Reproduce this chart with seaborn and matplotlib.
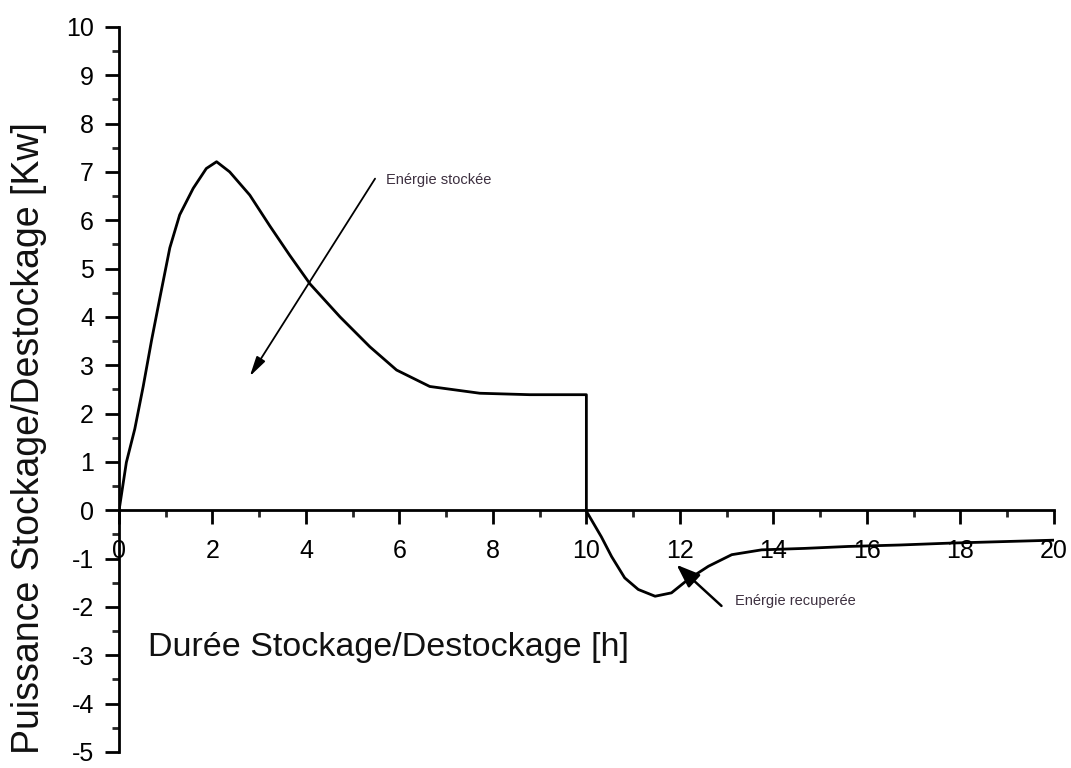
import pandas as pd
import matplotlib.pyplot as plt
import seaborn as sns
from matplotlib.ticker import MultipleLocator

# ======================================================
# DATA
# ======================================================
# charging phase (0 - 10 h), then the drop at 10 h
x_stock = [0.0, 0.02, 0.16, 0.34, 0.52, 0.70, 0.88, 1.09, 1.30, 1.59, 1.87,
           2.09, 2.37, 2.80, 3.23, 3.65, 4.09, 4.73, 5.37, 5.94, 6.65, 7.72,
           8.79, 9.93, 10.0, 10.0]
y_stock = [0.0, 0.1, 0.99, 1.68, 2.56, 3.52, 4.41, 5.43, 6.11, 6.66, 7.07,
           7.21, 7.0, 6.52, 5.88, 5.28, 4.68, 4.0, 3.38, 2.90, 2.56, 2.42,
           2.39, 2.39, 2.39, 0.0]

# discharge phase (10 - 20 h)
x_destock = [10.0, 10.32, 10.54, 10.82, 11.11, 11.47, 11.82, 12.18, 12.61,
             13.11, 13.75, 14.67, 15.6, 16.7, 17.8, 18.9, 20.0]
y_destock = [-0.02, -0.55, -0.96, -1.40, -1.64, -1.78, -1.71, -1.43, -1.16,
             -0.92, -0.82, -0.79, -0.75, -0.72, -0.68, -0.65, -0.62]

X_TICKS = [0, 2, 4, 6, 8, 10, 12, 14, 16, 18, 20]
Y_TICKS = [-5, -4, -3, -2, -1, 0, 1, 2, 3, 4, 5, 6, 7, 8, 9, 10]

X_LABEL = "Durée Stockage/Destockage [h]"
Y_LABEL = "Puissance Stockage/Destockage [Kw]"
NOTE_STORED = "Enérgie stockée"
NOTE_RECOVERED = "Enérgie recuperée"


def main():
    sns.set_theme(style="ticks")
    plt.rcParams['font.family'] = ['Liberation Sans', 'DejaVu Sans']
    plt.rcParams['axes.unicode_minus'] = False
    plt.rcParams['text.color'] = 'black'

    df = pd.DataFrame({
        "t": x_stock + x_destock,
        "p": y_stock + y_destock,
    })

    fig = plt.figure(figsize=(10.71, 7.68), dpi=100)
    ax = fig.add_axes([0.111, 0.021, 0.873, 0.944])

    sns.lineplot(data=df, x="t", y="p", sort=False, estimator=None,
                 color="black", linewidth=2, ax=ax)

    ax.set_xlim(0, 20)
    ax.set_ylim(-5, 10)

    # Origin-like axes: left spine + x axis through y=0
    ax.spines['bottom'].set_position(('data', 0))
    ax.spines['top'].set_visible(False)
    ax.spines['right'].set_visible(False)
    for s in ('left', 'bottom'):
        ax.spines[s].set_linewidth(2)
        ax.spines[s].set_color("black")

    ax.set_xticks(X_TICKS)
    ax.set_yticks(Y_TICKS)
    ax.xaxis.set_minor_locator(MultipleLocator(1))
    ax.yaxis.set_minor_locator(MultipleLocator(0.5))
    ax.tick_params(which='major', length=10, width=2, direction='out',
                   labelsize=18, colors='black')
    ax.tick_params(which='minor', length=5, width=2, direction='out')
    ax.tick_params(axis='x', which='major', pad=11)
    ax.tick_params(axis='y', which='major', pad=8)

    ax.set_xlabel("")
    ax.set_ylabel("")
    ax.text(0.62, -2.85, X_LABEL, fontsize=24.5, va='center', ha='left',
            color='#111111')
    fig.text(0.027, 0.43, Y_LABEL, fontsize=27, rotation=90,
             va='center', ha='center', color='#111111')

    # annotations
    ax.annotate("", xy=(2.8, 2.77), xytext=(5.48, 6.86),
                arrowprops=dict(arrowstyle='-|>,head_width=0.25,head_length=1.0',
                                color='black', lw=1.3, shrinkA=0, shrinkB=0))
    ax.text(5.72, 6.83, NOTE_STORED, fontsize=10.5, color='#3d3040',
            va='center', ha='left')

    ax.annotate("", xy=(11.93, -1.13), xytext=(12.89, -1.98),
                arrowprops=dict(arrowstyle='-|>,head_width=0.45,head_length=1.2',
                                color='black', lw=1.8, shrinkA=0, shrinkB=0))
    ax.text(13.18, -1.87, NOTE_RECOVERED, fontsize=10.5, color='#3d3040',
            va='center', ha='left')

    fig.savefig("out.png", dpi=100)
    plt.close(fig)


if __name__ == "__main__":
    main()
